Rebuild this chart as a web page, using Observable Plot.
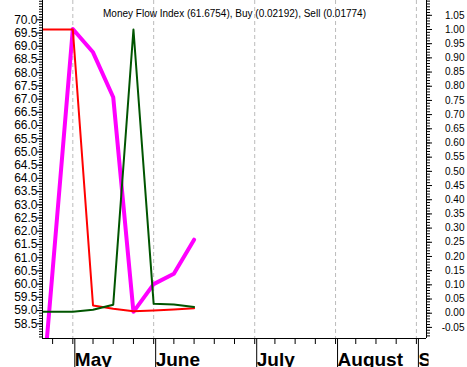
<!DOCTYPE html>
<html><head><meta charset="utf-8">
<script src="https://cdn.jsdelivr.net/npm/d3@7"></script>
<script src="https://cdn.jsdelivr.net/npm/@observablehq/plot@0.6"></script>
<style>html,body{margin:0;padding:0;background:#fff} svg{display:block}</style>
</head><body><div id="chart"></div>
<script>
// ---- data ----
const weeks = [-1, 0, 1, 2, 3, 4, 5, 6, 7];
const mfi  = [51.4, 60.5, 69.65, 68.77, 67.07, 58.95, 60.0, 60.39, 61.68];
const buy  = [0.005, 0.005, 0.005, 0.012, 0.03, 1.0, 0.033, 0.031, 0.0219];
const sell = [1.0, 1.0, 1.0, 0.027, 0.0155, 0.007, 0.0095, 0.013, 0.0177];
const weekTicks = [0,1,2,3,4,5,6,7,8,9,10,11,12,13,14,15,16,17,18];
const monthTicks = [1, 5, 10, 14, 18];
const monthNames = ["May", "June", "July", "August", "September"];
const leftTicks = [58.5,59.0,59.5,60.0,60.5,61.0,61.5,62.0,62.5,63.0,63.5,64.0,64.5,65.0,65.5,66.0,66.5,67.0,67.5,68.0,68.5,69.0,69.5,70.0];
const rightTicks = [-0.05,0.00,0.05,0.10,0.15,0.20,0.25,0.30,0.35,0.40,0.45,0.50,0.55,0.60,0.65,0.70,0.75,0.80,0.85,0.90,0.95,1.00,1.05];
const title = "Money Flow Index (61.6754), Buy (0.02192), Sell (0.01774)";

// right (Buy/Sell) axis expressed on the left (MFI) scale
const toLeft = r => 58.899 + 10.734 * r;
const fromLeft = v => (v - 58.899) / 10.734;
const yDomain = [57.942, 70.730];

const leftMinor = d3.range(580, 708).map(k => k / 10);
const rightMinor = d3.range(-8, 111).map(k => k / 100);

const rows = weeks.map((w, i) => ({w, mfi: mfi[i], buy: toLeft(buy[i]), sell: toLeft(sell[i])}));

const chart = Plot.plot({
  width: 467, height: 367,
  marginLeft: 42, marginRight: 41, marginTop: 0, marginBottom: 29,
  style: {fontFamily: "'Liberation Sans', Arial, sans-serif", fontSize: "11px", background: "#fff", color: "#000"},
  x: {type: "linear", domain: [-0.5, 18.5]},
  y: {type: "linear", domain: yDomain},
  marks: [
    Plot.ruleX(monthTicks, {stroke: "#bbbbbb", strokeDasharray: "4,3"}),
    Plot.line(rows, {x: "w", y: "mfi", stroke: "#ff00ff", strokeWidth: 4, clip: true}),
    Plot.line(rows, {x: "w", y: "sell", stroke: "#ff0000", strokeWidth: 2, clip: true}),
    Plot.line(rows, {x: "w", y: "buy", stroke: "#005500", strokeWidth: 2, clip: true}),
    // axis lines
    Plot.ruleX([-0.5, 18.5], {stroke: "#000"}),
    Plot.ruleY([yDomain[0]], {stroke: "#000"}),
    // left axis
    Plot.axisY({anchor: "left", ticks: leftMinor, tickSize: 3, tickFormat: () => "", label: null}),
    Plot.axisY({anchor: "left", ticks: leftTicks, tickSize: 5, tickPadding: 0, fontSize: 12, tickFormat: d => d.toFixed(1), label: null}),
    // right axis
    Plot.axisY({anchor: "right", ticks: rightMinor.map(toLeft), tickSize: 3, tickFormat: () => "", label: null}),
    Plot.axisY({anchor: "right", ticks: rightTicks.map(toLeft), tickSize: 5, tickPadding: 33, textAnchor: "end", fontSize: 10,
      tickFormat: v => {const r = fromLeft(v); return (Math.abs(r) < 1e-6 ? 0 : r).toFixed(2);}, label: null}),
    // bottom axis
    Plot.axisX({anchor: "bottom", ticks: weekTicks, tickSize: 6, tickFormat: () => "", label: null}),
    Plot.axisX({anchor: "bottom", ticks: monthTicks, tickSize: 29, tickPadding: -15.5, textAnchor: "start", dx: 2,
      fontSize: 19, fontWeight: "bold", tickFormat: i => monthNames[monthTicks.indexOf(i)], label: null}),
    Plot.text([title], {frameAnchor: "top", dy: 9, fontSize: 10, fill: "#000"})
  ]
});

// clip the month labels at the right axis, as in the reference
const svg = d3.select(chart);
svg.append("defs").append("clipPath").attr("id", "monthclip")
  .append("rect").attr("x", 0).attr("y", 0).attr("width", 426).attr("height", 367);
svg.selectAll('g[aria-label="x-axis tick label"]').attr("clip-path", "url(#monthclip)");

document.getElementById("chart").appendChild(chart);
</script>
</body></html>
